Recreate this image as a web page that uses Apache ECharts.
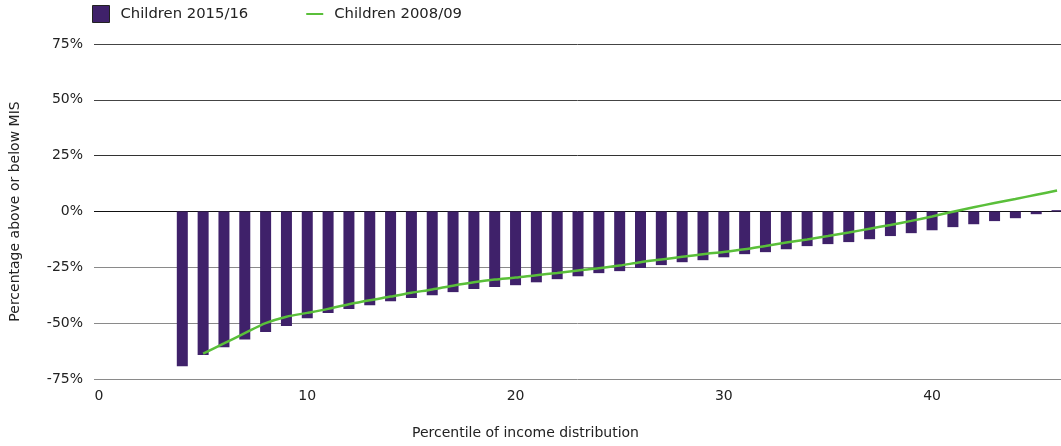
<!DOCTYPE html>
<html>
<head>
<meta charset="utf-8">
<script src="https://cdn.jsdelivr.net/npm/echarts@6/dist/echarts.min.js"></script>
<style>html,body{margin:0;padding:0;background:#fff}#c{width:1061px;height:446px}</style>
</head>
<body>
<div id="c"></div>
<script>
// Data
var barPercentiles = [4,5,6,7,8,9,10,11,12,13,14,15,16,17,18,19,20,21,22,23,24,25,26,27,28,29,30,31,32,33,34,35,36,37,38,39,40,41,42,43,44,45,46];
var children2015 = [-69.3,-64.3,-60.8,-57.3,-54.0,-51.3,-47.8,-45.5,-43.7,-42.0,-40.2,-38.7,-37.5,-36.1,-34.7,-33.8,-33.0,-31.7,-30.3,-29.0,-27.6,-26.7,-25.3,-24.0,-22.7,-21.8,-20.5,-19.1,-18.2,-16.9,-15.5,-14.6,-13.7,-12.4,-11.0,-9.7,-8.4,-7.0,-5.7,-4.3,-3.0,-1.2,0.6];
var linePercentiles = [5,6,7,8,9,10,11,12,13,14,15,16,17,18,19,20,21,22,23,24,25,26,27,28,29,30,31,32,33,34,35,36,37,38,39,40,41,42,43,44,45,46];
var children2008 = [-63.6,-59.1,-54.5,-50.0,-47.1,-45.4,-43.6,-41.5,-39.7,-38.1,-36.4,-34.9,-33.2,-31.7,-30.5,-29.6,-28.5,-27.5,-26.4,-25.4,-24.2,-22.7,-21.5,-20.3,-19.1,-18.1,-16.9,-15.4,-13.9,-12.5,-11.0,-9.4,-7.7,-6.0,-4.2,-2.2,-0.1,1.9,3.8,5.6,7.5,9.4];
var xTickLabels = [0,10,20,30,40];
var seriesNames = ['Children 2015/16','Children 2008/09'];
var xAxisTitle = 'Percentile of income distribution';
var yAxisTitle = 'Percentage above or below MIS';

var barData = barPercentiles.map(function(p,i){return [p, children2015[i]];});
var lineData = linePercentiles.map(function(p,i){return [p, children2008[i]];});

var FONT = '"DejaVu Sans"';
var TXT = '#222';
var chart = echarts.init(document.getElementById('c'), null, {renderer:'canvas'});
chart.setOption({
  animation: false,
  textStyle: {fontFamily: FONT},
  legend: {
    left: 92, top: 5, padding: 0,
    itemWidth: 17, itemHeight: 17, itemGap: 57,
    textStyle: {fontFamily: FONT, fontSize: 14.8, color: TXT, padding: [0,0,0,6]},
    data: [
      {name: seriesNames[0], icon: 'rect', itemStyle: {borderColor: '#222', borderWidth: 1}},
      {name: seriesNames[1], itemStyle: {opacity: 0}}
    ]
  },
  grid: {left: 93, right: 0, top: 44, bottom: 67, containLabel: false},
  xAxis: {
    type: 'value',
    min: -0.24, max: 46.19,
    axisLine: {show: false},
    axisTick: {show: false},
    splitLine: {show: false},
    axisLabel: {customValues: xTickLabels, fontFamily: FONT, fontSize: 14, color: TXT, margin: 10},
    name: xAxisTitle,
    nameLocation: 'middle',
    nameGap: 47,
    nameTextStyle: {fontFamily: FONT, fontSize: 14, color: TXT, padding: [0, 104, 0, 0]}
  },
  yAxis: {
    type: 'value',
    min: -75, max: 75, interval: 25,
    axisLine: {show: false},
    axisTick: {show: false},
    splitLine: {show: true, lineStyle: {color: ['#8a8a8a','#8a8a8a','#8a8a8a','#111','#333','#444','#444'], width: 1}},
    axisLabel: {fontFamily: FONT, fontSize: 14, color: TXT, margin: 11,
      formatter: function(v){return v + '%';}},
    name: yAxisTitle,
    nameLocation: 'middle',
    nameGap: 72,
    nameTextStyle: {fontFamily: FONT, fontSize: 14, color: TXT}
  },
  series: [
    {
      name: seriesNames[0], type: 'bar',
      data: barData, barWidth: 11,
      itemStyle: {color: '#3f216a'}
    },
    {
      name: seriesNames[1], type: 'line',
      data: lineData, smooth: 0.3,
      symbol: 'none',
      lineStyle: {color: '#5abf3a', width: 2.5},
      itemStyle: {color: '#5abf3a'}
    }
  ]
});
</script>
</body>
</html>
